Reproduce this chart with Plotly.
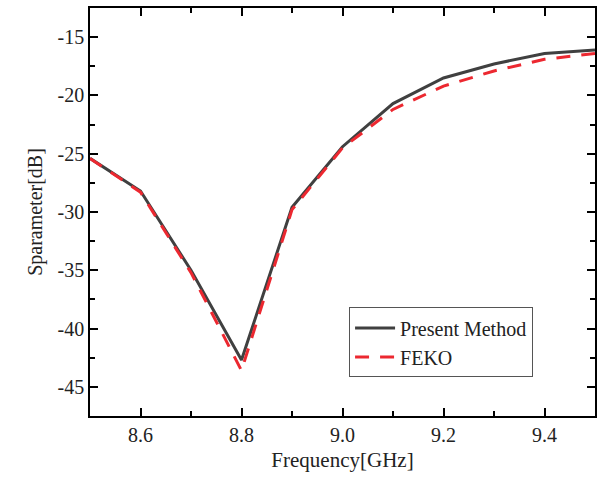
import plotly.graph_objects as go

freq = [8.5, 8.6, 8.7, 8.8, 8.9, 9.0, 9.1, 9.2, 9.3, 9.4, 9.5]
present = [-25.4, -28.2, -35.0, -42.7, -29.6, -24.4, -20.7, -18.5, -17.3, -16.4, -16.1]
feko = [-25.4, -28.3, -35.2, -43.6, -29.8, -24.5, -21.2, -19.2, -17.9, -16.9, -16.4]
xtick_vals = [8.6, 8.8, 9.0, 9.2, 9.4]
xtick_text = ["8.6", "8.8", "9.0", "9.2", "9.4"]
ytick_vals = [-45, -40, -35, -30, -25, -20, -15]
ytick_text = ["-45", "-40", "-35", "-30", "-25", "-20", "-15"]

font = "Times New Roman"
tickfont = dict(family=font, size=20, color="#222")

fig = go.Figure()
fig.add_trace(go.Scatter(x=freq, y=present, mode="lines", name="Present Method",
                         line=dict(color="#404040", width=3)))
fig.add_trace(go.Scatter(x=freq, y=feko, mode="lines", name="FEKO",
                         line=dict(color="#ec2830", width=3, dash="14px,11px")))

fig.update_layout(
    width=605, height=477, margin=dict(l=90, r=10, t=6, b=61),
    font=dict(family=font, size=20, color="#222"),
    plot_bgcolor="white", paper_bgcolor="white",
    xaxis=dict(range=[8.5, 9.5], tickmode="array", tickvals=xtick_vals, ticktext=xtick_text,
               tickfont=tickfont,
               showline=True, linecolor="black", linewidth=1.5, mirror="ticks",
               ticks="inside", tickcolor="black", tickwidth=1.5, ticklen=8,
               showgrid=False, zeroline=False,
               minor=dict(ticks="inside", ticklen=5, tickwidth=1.5, tickcolor="black", dtick=0.1, tick0=8.5),
               title=dict(text="Frequency[GHz]", font=dict(family=font, size=21, color="#222"), standoff=8)),
    yaxis=dict(range=[-47.5, -12.5], tickmode="array", tickvals=ytick_vals, ticktext=ytick_text,
               tickfont=tickfont,
               showline=True, linecolor="black", linewidth=1.5, mirror="ticks",
               ticks="inside", tickcolor="black", tickwidth=1.5, ticklen=8,
               showgrid=False, zeroline=False,
               minor=dict(ticks="inside", ticklen=5, tickwidth=1.5, tickcolor="black", dtick=2.5, tick0=-15),
               title=dict(text="Sparameter[dB]", font=dict(family=font, size=20, color="#222"), standoff=10)),
    legend=dict(x=0.513, y=0.266, xanchor="left", yanchor="top",
                bordercolor="#555", borderwidth=1, bgcolor="white",
                font=dict(family=font, size=20, color="#222"),
                tracegroupgap=0, itemwidth=40))
fig.write_html("out.html")
